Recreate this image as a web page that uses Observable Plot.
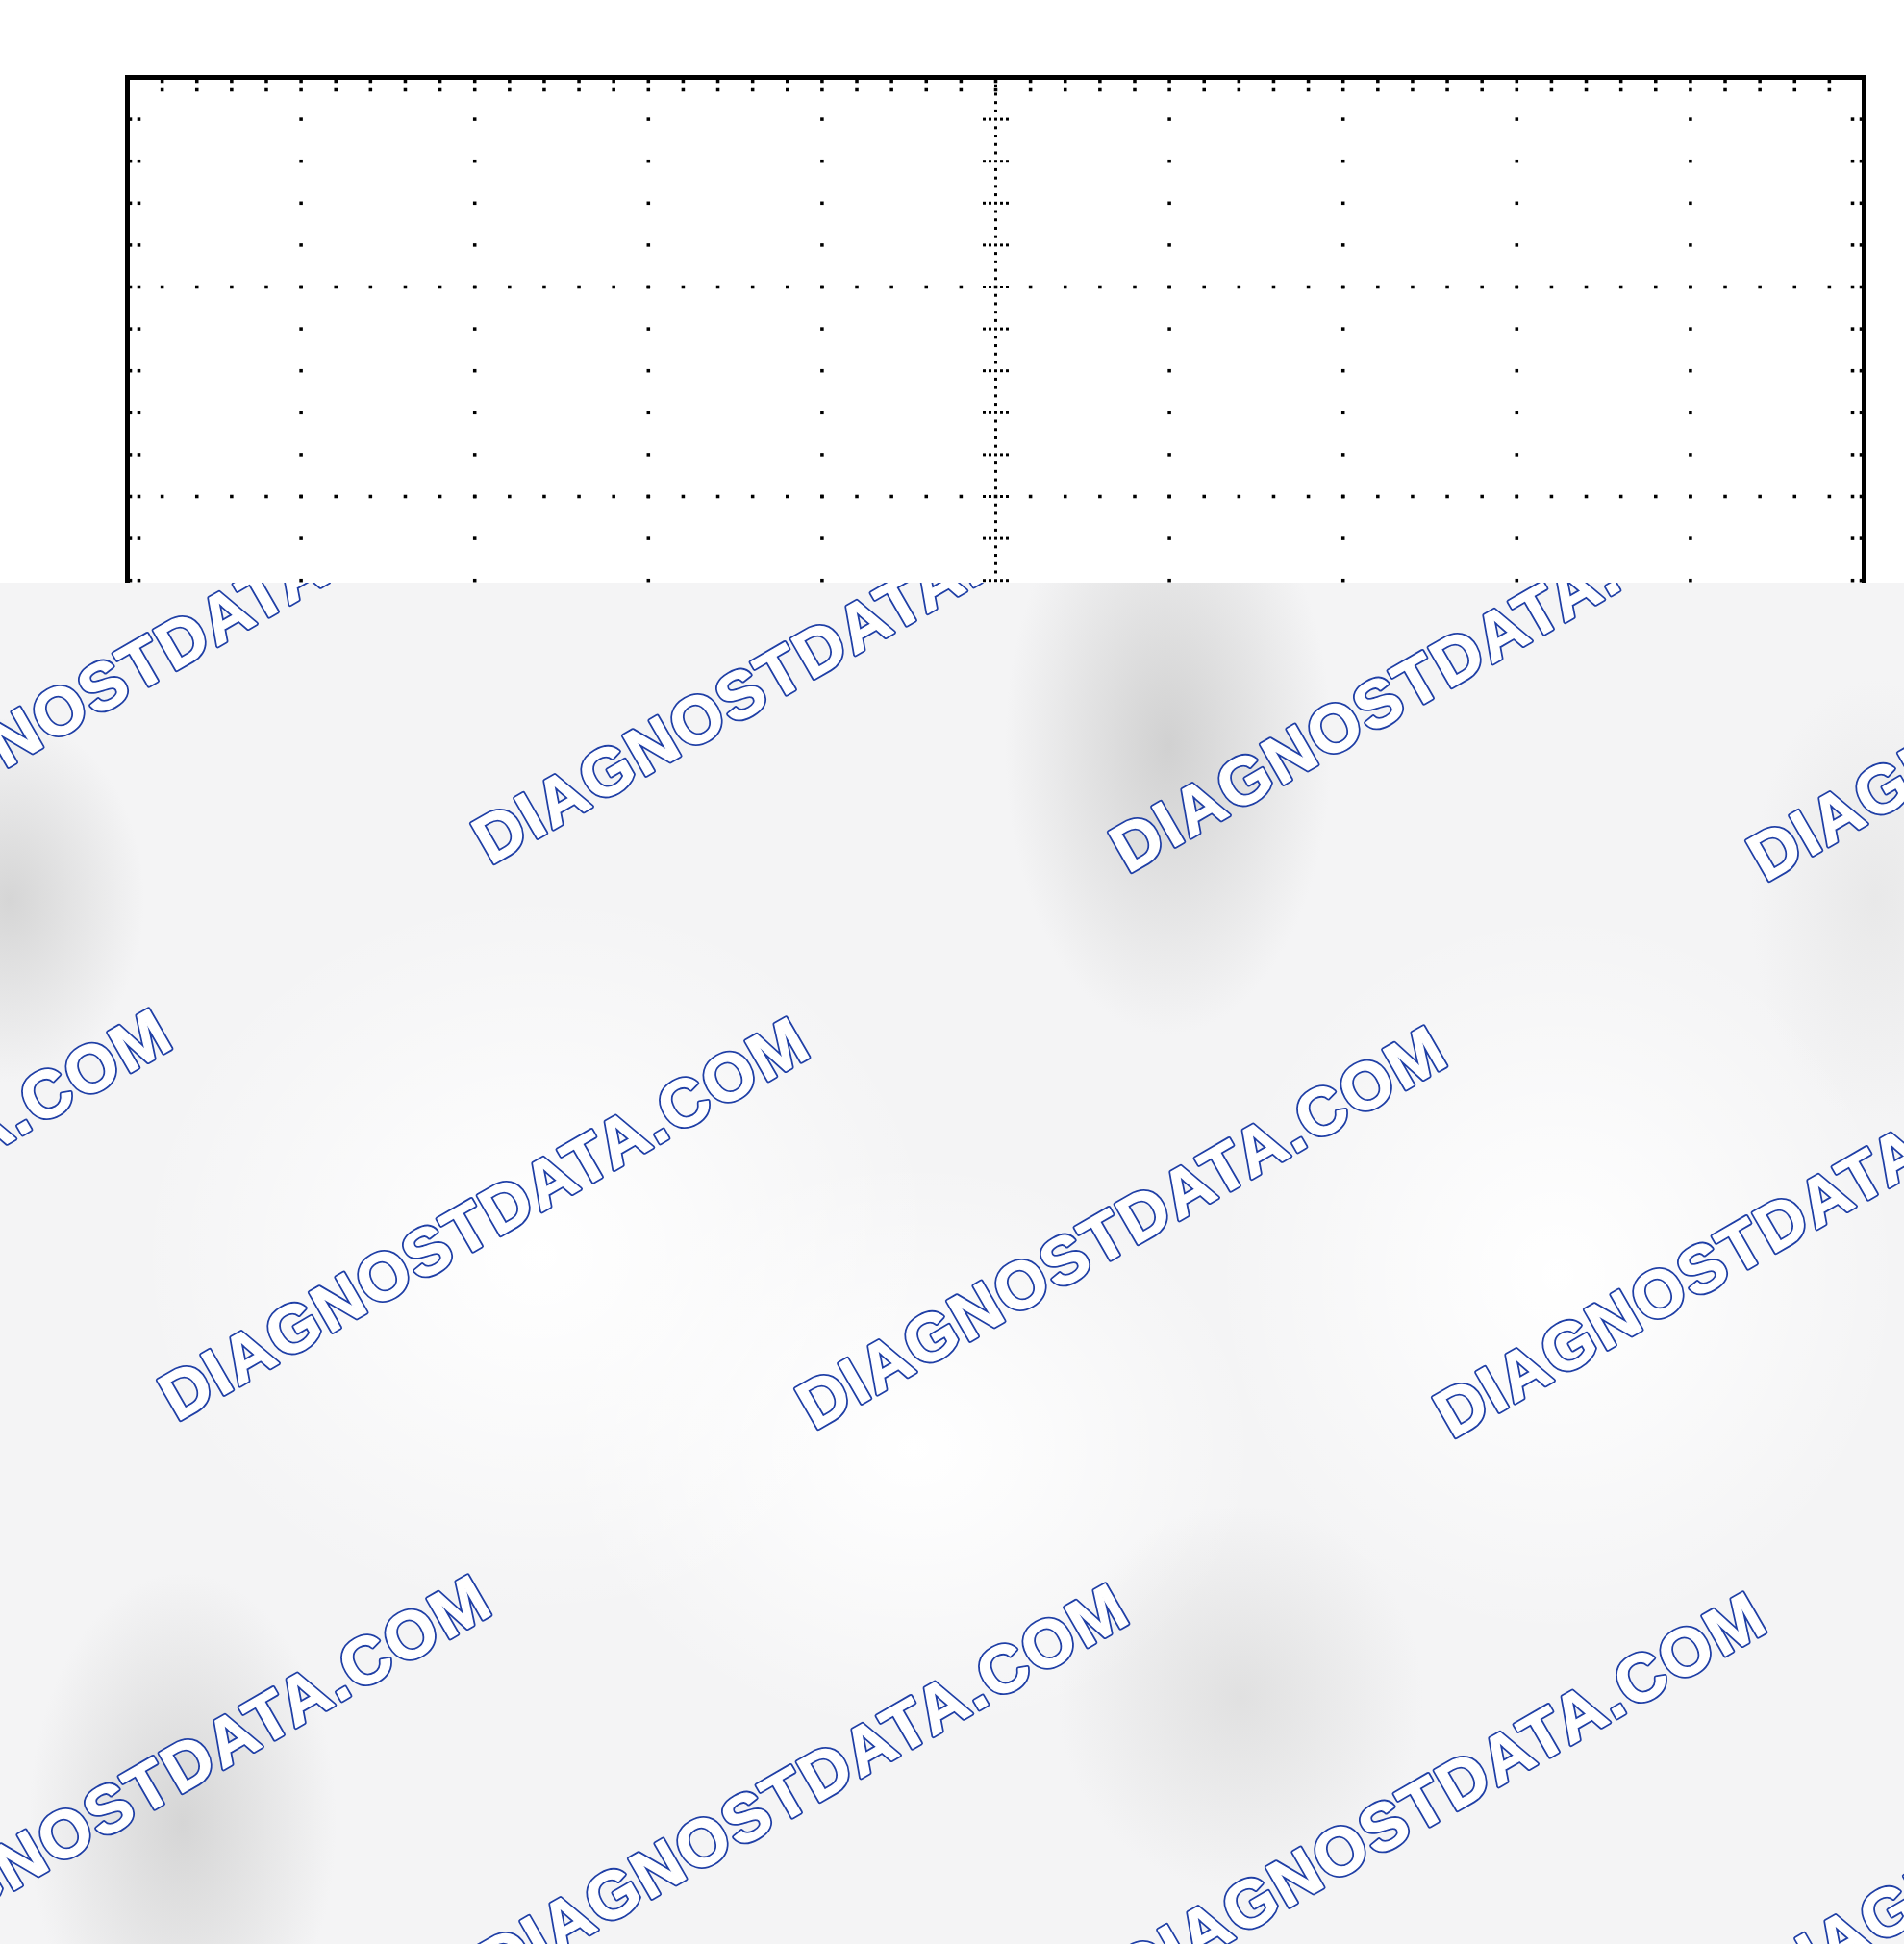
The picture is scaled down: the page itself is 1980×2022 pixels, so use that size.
<!DOCTYPE html>
<html>
<head>
<meta charset="utf-8">
<script src="https://cdn.jsdelivr.net/npm/d3@7"></script>
<script src="https://cdn.jsdelivr.net/npm/@observablehq/plot@0.6"></script>
<style>
  html, body { margin: 0; padding: 0; background: #ffffff; }
  #wrap { position: relative; width: 1980px; height: 2022px; overflow: hidden; }
  #chart { position: absolute; left: 0; top: 0; }
  #overlay {
    position: absolute; left: 0; top: 606px; width: 1980px; height: 1416px; overflow: hidden;
    background:
      radial-gradient(ellipse 170px 300px at 1215px 170px, rgba(205,205,205,0.9), rgba(205,205,205,0) 100%),
      radial-gradient(ellipse 140px 190px at 10px 330px, rgba(208,208,208,0.85), rgba(208,208,208,0) 100%),
      radial-gradient(ellipse 160px 260px at 190px 1290px, rgba(208,208,208,0.85), rgba(208,208,208,0) 100%),
      radial-gradient(ellipse 190px 200px at 1290px 1160px, rgba(218,218,218,0.75), rgba(218,218,218,0) 100%),
      radial-gradient(ellipse 130px 230px at 1950px 330px, rgba(225,225,225,0.6), rgba(225,225,225,0) 100%),
      radial-gradient(ellipse 420px 380px at 560px 700px, rgba(255,255,255,1), rgba(255,255,255,0) 100%),
      radial-gradient(ellipse 360px 380px at 1620px 720px, rgba(255,255,255,1), rgba(255,255,255,0) 100%),
      radial-gradient(ellipse 360px 300px at 950px 900px, rgba(255,255,255,1), rgba(255,255,255,0) 100%),
      #f4f4f5;
  }
  #overlay svg { position: absolute; left: 0; top: 0; }
</style>
</head>
<body>
<div id="wrap">
  <div id="chart"></div>
  <div id="overlay"></div>
</div>
<script>
// Oscilloscope graticule: 10 x 8 divisions
const divX = [-5, -4, -3, -2, -1, 0, 1, 2, 3, 4, 5];
const divY = [-4, -3, -2, -1, 0, 1, 2, 3, 4];
const minorSteps = [0, 0.2, 0.4, 0.6, 0.8];
const fineSteps = [0, 0.04, 0.08, 0.12, 0.16];
const crossOffsets = [-12, -6, 6, 12];
const edgeOffsets = [4, 13];

// Watermark text and tiling rows (start x, start y of baseline)
const watermarkText = "DIAGNOSTDATA.COM";
const wmRowStartX = [510, 184, 516];
const wmRowStartY = [900, 1479, 2068];
const wmColumns = [-1, 0, 1, 2];
const wmStepX = 663, wmStepY = 9, wmAngle = -30;

// derived tick positions
const minorX = divX.slice(0, -1).flatMap(d => minorSteps.map(s => +(d + s).toFixed(3))).concat([divX[divX.length - 1]]);
const minorY = divY.slice(0, -1).flatMap(d => minorSteps.map(s => +(d + s).toFixed(3))).concat([divY[divY.length - 1]]);
const fineX = minorX.slice(0, -1).flatMap(m => fineSteps.map(s => +(m + s).toFixed(3))).concat([5]);
const fineY = minorY.slice(0, -1).flatMap(m => fineSteps.map(s => +(m + s).toFixed(3))).concat([4]);

const innerX = divX.slice(1, -1).filter(d => d !== 0);
const innerY = divY.slice(1, -1).filter(d => d !== 0);

const gridV = innerX.flatMap(x => minorY.map(y => ({x, y})));
const gridH = innerY.flatMap(y => minorX.map(x => ({x, y})));
const centerV = fineY.map(y => ({x: 0, y}));
const centerH = fineX.map(x => ({x, y: 0}));
const crossOnV = minorY.map(y => ({x: 0, y}));
const crossOnH = minorX.map(x => ({x, y: 0}));
const topEdge = minorX.slice(1, -1).map(x => ({x, y: 4}));
const bottomEdge = minorX.slice(1, -1).map(x => ({x, y: -4}));
const leftEdge = minorY.slice(1, -1).map(y => ({x: -5, y}));
const rightEdge = minorY.slice(1, -1).map(y => ({x: 5, y}));

const dotOpts = {x: "x", y: "y", symbol: "square", r: 2, fill: "black", stroke: "none"};

const marks = [
  Plot.dot(gridV, dotOpts),
  Plot.dot(gridH, dotOpts),
  Plot.dot(centerV, {...dotOpts, r: 1.7}),
  Plot.dot(centerH, {...dotOpts, r: 1.7}),
  ...crossOffsets.map(o => Plot.dot(crossOnV, {...dotOpts, r: 1.7, dx: o})),
  ...crossOffsets.map(o => Plot.dot(crossOnH, {...dotOpts, r: 1.7, dy: o})),
  ...edgeOffsets.map(o => Plot.dot(topEdge, {...dotOpts, dy: o})),
  ...edgeOffsets.map(o => Plot.dot(bottomEdge, {...dotOpts, dy: -o})),
  ...edgeOffsets.map(o => Plot.dot(leftEdge, {...dotOpts, dx: o - 1})),
  ...edgeOffsets.map(o => Plot.dot(rightEdge, {...dotOpts, dx: -(o - 1)})),
  Plot.frame({stroke: "black", strokeWidth: 5})
];

const chart = Plot.plot({
  width: 1980,
  height: 2022,
  marginLeft: 132,
  marginRight: 42,
  marginTop: 80,
  marginBottom: 198,
  x: {domain: [-5, 5], axis: null},
  y: {domain: [-4, 4], axis: null},
  style: {background: "white"},
  marks
});
document.getElementById("chart").appendChild(chart);

// Watermark overlay: outlined bold text (blue outline, white body)
const ns = "http://www.w3.org/2000/svg";
const svg = document.createElementNS(ns, "svg");
svg.setAttribute("width", 1980);
svg.setAttribute("height", 1416);
const top0 = 606;
function wmText(x, y, stroke, strokeWidth) {
  const t = document.createElementNS(ns, "text");
  t.setAttribute("x", x);
  t.setAttribute("y", y);
  t.setAttribute("font-family", "'Liberation Sans', Arial, Helvetica, sans-serif");
  t.setAttribute("font-weight", "700");
  t.setAttribute("font-size", "69");
  t.setAttribute("letter-spacing", "2.5");
  t.setAttribute("fill", "#ffffff");
  t.setAttribute("stroke", stroke);
  t.setAttribute("stroke-width", strokeWidth);
  t.setAttribute("stroke-linejoin", "round");
  t.setAttribute("transform", `rotate(${wmAngle} ${x} ${y})`);
  t.textContent = watermarkText;
  return t;
}
wmRowStartX.forEach((x0, r) => {
  wmColumns.forEach(k => {
    const x = x0 + wmStepX * k;
    const y = wmRowStartY[r] + wmStepY * k - top0;
    svg.appendChild(wmText(x, y, "#1f3fa6", 4.8));
    svg.appendChild(wmText(x, y, "#ffffff", 1.2));
  });
});
document.getElementById("overlay").appendChild(svg);
</script>
</body>
</html>
